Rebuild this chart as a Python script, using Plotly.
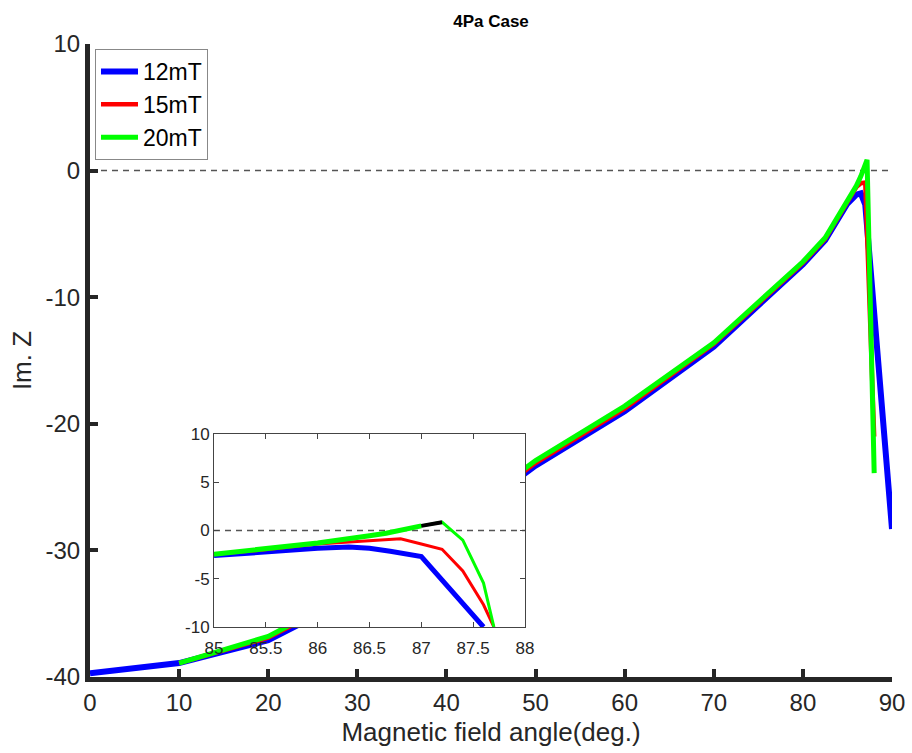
import plotly.graph_objects as go

# ---------------- data (main plot) ----------------
angle_12 = [0, 10, 20, 30, 40, 50, 60, 70, 80, 82.5, 85, 86, 86.5, 87, 90]
imz_12 = [-39.7, -38.9, -37.1, -33.5, -28.5, -23.3, -19.0, -13.9, -7.4, -5.5, -2.6, -1.9, -1.8, -2.7, -28.3]

angle_15 = [10, 20, 30, 40, 50, 60, 70, 80, 82.5, 85, 86, 86.5, 87, 88]
imz_15 = [-38.9, -36.9, -33.3, -28.3, -23.1, -18.8, -13.7, -7.3, -5.4, -2.5, -1.3, -1.0, -0.95, -21.0]

angle_20 = [10, 20, 30, 40, 50, 60, 70, 80, 82.5, 85, 86, 86.5, 87, 87.2, 88]
imz_20 = [-38.9, -36.8, -33.1, -28.1, -22.9, -18.6, -13.6, -7.2, -5.3, -2.45, -1.2, -0.45, 0.5, 0.85, -23.9]

# ---------------- data (inset, 85-88 deg) ----------------
in_angle_12 = [85, 85.5, 86, 86.3, 86.5, 86.7, 87, 87.6]
in_imz_12 = [-2.6, -2.2, -1.85, -1.72, -1.83, -2.15, -2.7, -10.0]

in_angle_15 = [85, 85.5, 86, 86.5, 86.8, 87, 87.2, 87.4, 87.6, 87.7]
in_imz_15 = [-2.5, -2.0, -1.4, -1.05, -0.86, -1.4, -1.95, -4.2, -7.7, -10.0]

in_angle_20 = [85, 85.5, 86, 86.5, 86.66, 87, 87.2, 87.4, 87.6, 87.7]
in_imz_20 = [-2.45, -1.9, -1.3, -0.55, -0.28, 0.48, 0.86, -1.0, -5.45, -10.0]

in_angle_20_lead = [85, 85.5, 86, 86.5, 86.66, 87]
in_imz_20_lead = [-2.45, -1.9, -1.3, -0.55, -0.28, 0.48]

in_angle_black = [87, 87.2]
in_imz_black = [0.48, 0.86]

labels = ["12mT", "15mT", "20mT"]
colors = ["#0000ff", "#ff0000", "#00ff00"]

main_x_ticks = [0, 10, 20, 30, 40, 50, 60, 70, 80, 90]
main_y_ticks = [-40, -30, -20, -10, 0, 10]
inset_x_ticks = [85, 85.5, 86, 86.5, 87, 87.5, 88]
inset_y_ticks = [-10, -5, 0, 5, 10]

FONT = "Liberation Sans, Arial, Helvetica, sans-serif"
AX = "#262626"

fig = go.Figure()

# zero reference lines
fig.add_trace(go.Scatter(x=[0, 90], y=[0, 0], mode="lines",
                         line=dict(color="#555555", width=1.5, dash="6px,5px"),
                         showlegend=False, hoverinfo="skip", xaxis="x", yaxis="y"))

main_sets = [(angle_12, imz_12, 6), (angle_15, imz_15, 4.5), (angle_20, imz_20, 5)]
for (xs, ys, w), name, c in zip(main_sets, labels, colors):
    fig.add_trace(go.Scatter(x=xs, y=ys, mode="lines", name=name,
                             line=dict(color=c, width=w),
                             xaxis="x", yaxis="y"))

# inset
fig.add_trace(go.Scatter(x=[85, 88], y=[0, 0], mode="lines",
                         line=dict(color="#555555", width=1.5, dash="6px,5px"),
                         showlegend=False, hoverinfo="skip", xaxis="x2", yaxis="y2"))
inset_sets = [(in_angle_12, in_imz_12, 5), (in_angle_15, in_imz_15, 3), (in_angle_20, in_imz_20, 3)]
for (xs, ys, w), name, c in zip(inset_sets, labels, colors):
    fig.add_trace(go.Scatter(x=xs, y=ys, mode="lines", name=name,
                             line=dict(color=c, width=w), showlegend=False,
                             xaxis="x2", yaxis="y2"))
fig.add_trace(go.Scatter(x=in_angle_20_lead, y=in_imz_20_lead, mode="lines",
                         line=dict(color=colors[2], width=5), showlegend=False,
                         xaxis="x2", yaxis="y2"))
fig.add_trace(go.Scatter(x=in_angle_black, y=in_imz_black, mode="lines",
                         line=dict(color="#000000", width=4), showlegend=False,
                         xaxis="x2", yaxis="y2"))

fig.update_layout(
    template="none",
    width=912, height=753,
    margin=dict(l=90, r=20, t=44, b=76, autoexpand=False),
    paper_bgcolor="white", plot_bgcolor="white",
    font=dict(family=FONT, color=AX),
    title=dict(text="<b>4Pa Case</b>", x=491 / 912, xanchor="center",
               y=1 - 21 / 753, yanchor="middle", font=dict(size=17, color="#000000")),
    showlegend=True,
    legend=dict(x=(95 - 90) / 802, y=(677 - 49) / 633, xanchor="left", yanchor="top",
                bgcolor="white", bordercolor="#888888", borderwidth=1,
                font=dict(size=23, color="#000000", family=FONT),
                itemwidth=37, tracegroupgap=0),
    xaxis=dict(domain=[0, 1], range=[0, 90], tickvals=main_x_ticks,
               ticktext=[str(v) for v in main_x_ticks],
               showgrid=False, zeroline=False, showline=True, linewidth=5, linecolor=AX,
               ticks="inside", ticklen=8, tickwidth=4, tickcolor=AX,
               tickfont=dict(size=24, color=AX), automargin=False,
               title=dict(text="Magnetic field angle(deg.)", font=dict(size=26, color=AX),
                          standoff=10),
               anchor="y"),
    yaxis=dict(domain=[0, 1], range=[-40, 10], tickvals=main_y_ticks,
               ticktext=[str(v) for v in main_y_ticks],
               showgrid=False, zeroline=False, showline=True, linewidth=5, linecolor=AX,
               ticks="inside", ticklen=8, tickwidth=4, tickcolor=AX,
               tickfont=dict(size=24, color=AX), automargin=False,
               title=dict(text="Im. Z", font=dict(size=26, color=AX), standoff=8),
               anchor="x"),
    xaxis2=dict(domain=[(214 - 90) / 802, (525 - 90) / 802], range=[85, 88],
                tickvals=inset_x_ticks, ticktext=[str(v) for v in inset_x_ticks],
                showgrid=False, zeroline=False, showline=True, mirror="ticks",
                linewidth=1, linecolor="#444444",
                ticks="inside", ticklen=5, tickwidth=1, tickcolor="#444444",
                tickfont=dict(size=17, color=AX), automargin=False, anchor="y2",
                ticklabelstandoff=6),
    yaxis2=dict(domain=[(677 - 627) / 633, (677 - 434) / 633], range=[-10, 10],
                tickvals=inset_y_ticks, ticktext=[str(v) for v in inset_y_ticks],
                showgrid=False, zeroline=False, showline=True, mirror="ticks",
                linewidth=1, linecolor="#444444",
                ticks="inside", ticklen=5, tickwidth=1, tickcolor="#444444",
                tickfont=dict(size=17, color=AX), automargin=False, anchor="x2"),
)

fig.write_html("out.html")
